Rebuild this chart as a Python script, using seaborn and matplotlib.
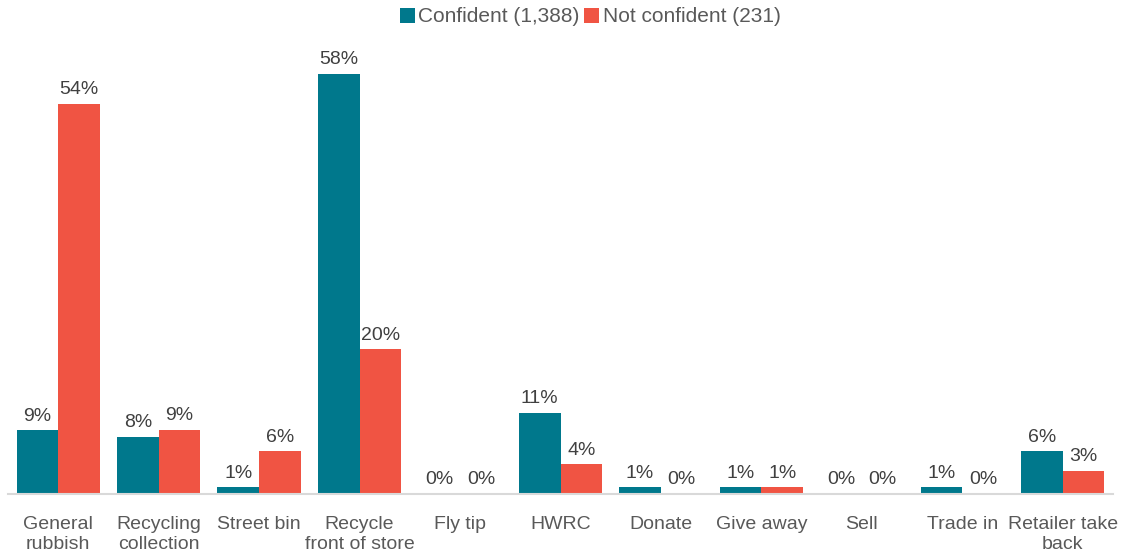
import matplotlib
matplotlib.use("Agg")
import matplotlib.pyplot as plt
import seaborn as sns
import pandas as pd
import numpy as np

categories = ["General\nrubbish", "Recycling\ncollection", "Street bin", "Recycle\nfront of store",
              "Fly tip", "HWRC", "Donate", "Give away", "Sell", "Trade in", "Retailer take\nback"]
series_names = ["Confident (1,388)", "Not confident (231)"]
confident = [8.8, 7.9, 0.9, 58.0, 0.0, 11.2, 0.9, 0.9, 0.0, 0.9, 5.9]
not_confident = [53.9, 8.9, 5.9, 20.0, 0.0, 4.1, 0.0, 0.9, 0.0, 0.0, 3.2]
colors = ["#00788C", "#F05443"]

df = pd.DataFrame({
    "category": categories * 2,
    "value": confident + not_confident,
    "series": [series_names[0]] * len(categories) + [series_names[1]] * len(categories),
})

sns.set_theme(style="white")
plt.rcParams["font.family"] = ["Liberation Sans", "DejaVu Sans"]
text_color = "#404040"
fs = 14

fig = plt.figure(figsize=(11.26, 5.58), dpi=100)
ax = fig.add_axes([8/1126, 64/558, (1113-8)/1126, (494-40)/558])

sns.barplot(data=df, x="category", y="value", hue="series", palette=colors,
            width=0.83, gap=0, ax=ax, saturation=1, legend=True, linewidth=0)

ax.set_ylim(0, 62.7)
ax.set_xlim(-0.5, len(categories) - 0.5)
ax.set_xlabel("")
ax.set_ylabel("")
ax.set_yticks([])
for s in ["top", "right", "left"]:
    ax.spines[s].set_visible(False)
ax.spines["bottom"].set_color("#D9D9D9")
ax.spines["bottom"].set_linewidth(1.5)

ax.set_xticks(np.arange(len(categories)))
ax.set_xticklabels(categories, fontsize=fs, color="#595959", linespacing=1.25)
ax.tick_params(axis="x", which="major", length=0, pad=16)
ax.set_xticks(np.arange(len(categories) + 1) - 0.5, minor=True)
ax.tick_params(axis="x", which="minor", length=8, width=1.5, color="#D9D9D9", direction="out")

for cont in ax.containers:
    ax.bar_label(cont, labels=[f"{v:.0f}%" for v in cont.datavalues],
                 padding=4, fontsize=fs, color=text_color)

leg = ax.legend(loc="center", bbox_to_anchor=(590/1126, 1 - 17/558),
                bbox_transform=fig.transFigure, ncol=2, frameon=False,
                fontsize=fs + 1, handlelength=0.75, handleheight=0.75,
                handletextpad=0.15, columnspacing=0.2)
for t in leg.get_texts():
    t.set_color("#595959")

fig.savefig("out.png", dpi=100)
